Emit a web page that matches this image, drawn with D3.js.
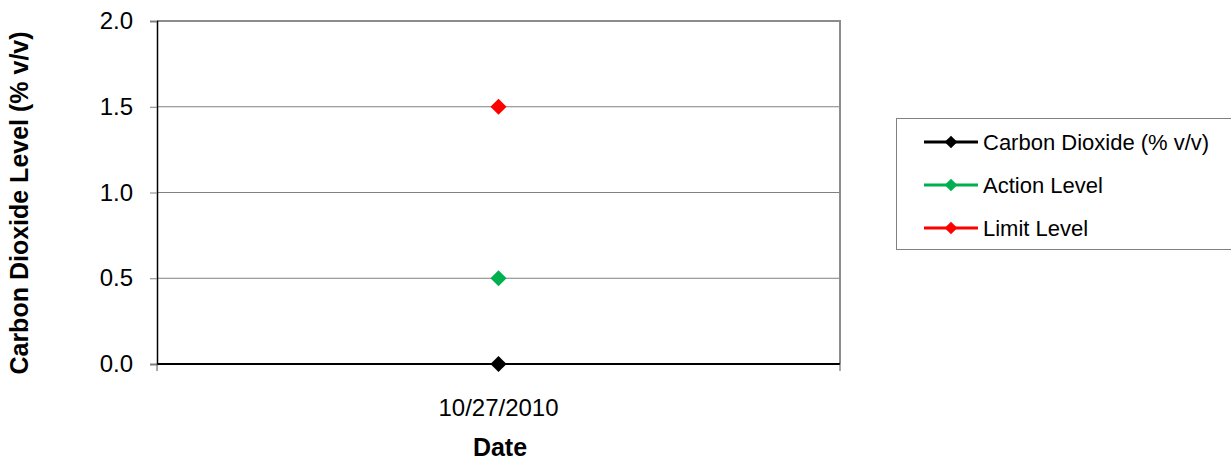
<!DOCTYPE html>
<html><head><meta charset="utf-8">
<script src="https://cdn.jsdelivr.net/npm/d3@7"></script>
<style>body{margin:0;background:#fff}svg{display:block}text{font-family:"Liberation Sans",Arial,sans-serif}</style>
</head><body>
<script>
const categories = ["10/27/2010"];
const seriesNames = ["Carbon Dioxide (% v/v)", "Action Level", "Limit Level"];
const seriesColors = ["#000000", "#00b050", "#ff0000"];
const co2Values = [0.0];
const actionValues = [0.5];
const limitValues = [1.5];
const yTicks = [0.0, 0.5, 1.0, 1.5, 2.0];

const W = 1231, H = 464;
const svg = d3.select("body").append("svg").attr("width", W).attr("height", H);
const L = 157, R = 840, T = 21, B = 364;
const x = d3.scaleBand().domain(categories).range([L, R]);
const y = d3.scaleLinear().domain([0, 2]).range([B, T]);

// gridlines
svg.append("g").selectAll("line").data(yTicks.filter(d => d > 0 && d < 2)).join("line")
  .attr("x1", L).attr("x2", R).attr("y1", d => y(d)).attr("y2", d => y(d))
  .attr("stroke", "#808080").attr("stroke-width", 1);
// border top/right
svg.append("line").attr("x1", L).attr("x2", R + 1).attr("y1", y(2)).attr("y2", y(2)).attr("stroke", "#8c8c8c").attr("stroke-width", 2);
svg.append("line").attr("x1", R).attr("x2", R).attr("y1", T).attr("y2", B).attr("stroke", "#8c8c8c").attr("stroke-width", 2);

// y axis
const yAxis = d3.axisLeft(y).tickValues(yTicks).tickFormat(d3.format(".1f")).tickSize(7).tickPadding(17);
const gy = svg.append("g").attr("transform", `translate(${L},0)`).call(yAxis);
gy.select(".domain").attr("stroke", "#000").attr("stroke-width", 1.5);
gy.selectAll(".tick line").attr("stroke", "#808080");
gy.selectAll("text").attr("font-size", 24).attr("fill", "#000").style("font-family", '"Liberation Sans",Arial,sans-serif');

// x axis
const gx = svg.append("g").attr("transform", `translate(0,${B})`);
gx.append("line").attr("x1", L).attr("x2", R).attr("stroke", "#000").attr("stroke-width", 2);
gx.selectAll(".xt").data([L, R]).join("line").attr("x1", d => d).attr("x2", d => d).attr("y1", 0).attr("y2", 7).attr("stroke", "#555");
gx.selectAll("text").data(categories).join("text")
  .attr("x", d => x(d) + x.bandwidth() / 2).attr("y", 52).attr("text-anchor", "middle")
  .attr("font-size", 24).text(d => d);

// axis titles
svg.append("text").attr("x", 500).attr("y", 456).attr("text-anchor", "middle")
  .attr("font-size", 25).attr("font-weight", "bold").text("Date");
svg.append("text").attr("transform", `translate(28,203) rotate(-90)`).attr("text-anchor", "middle")
  .attr("font-size", 25).attr("font-weight", "bold").text("Carbon Dioxide Level (% v/v)");

// markers
const series = [co2Values, actionValues, limitValues];
series.forEach((vals, i) => {
  svg.append("g").selectAll("path").data(vals).join("path")
    .attr("transform", (d, j) => `translate(${x(categories[j]) + x.bandwidth() / 2},${y(d)}) rotate(45)`)
    .attr("d", d3.symbol().type(d3.symbolSquare).size(130))
    .attr("fill", seriesColors[i]);
});

// legend
const lg = svg.append("g");
lg.append("rect").attr("x", 896.5).attr("y", 118.5).attr("width", 340).attr("height", 131)
  .attr("fill", "#fff").attr("stroke", "#808080").attr("stroke-width", 1);
seriesNames.forEach((name, i) => {
  const cy = 142 + i * 43;
  lg.append("line").attr("x1", 924).attr("x2", 978).attr("y1", cy).attr("y2", cy)
    .attr("stroke", seriesColors[i]).attr("stroke-width", 3);
  lg.append("path").attr("transform", `translate(951,${cy}) rotate(45)`)
    .attr("d", d3.symbol().type(d3.symbolSquare).size(80)).attr("fill", seriesColors[i]);
  lg.append("text").attr("x", 983).attr("y", cy + 8).attr("font-size", 22).text(name);
});
</script>
</body></html>
